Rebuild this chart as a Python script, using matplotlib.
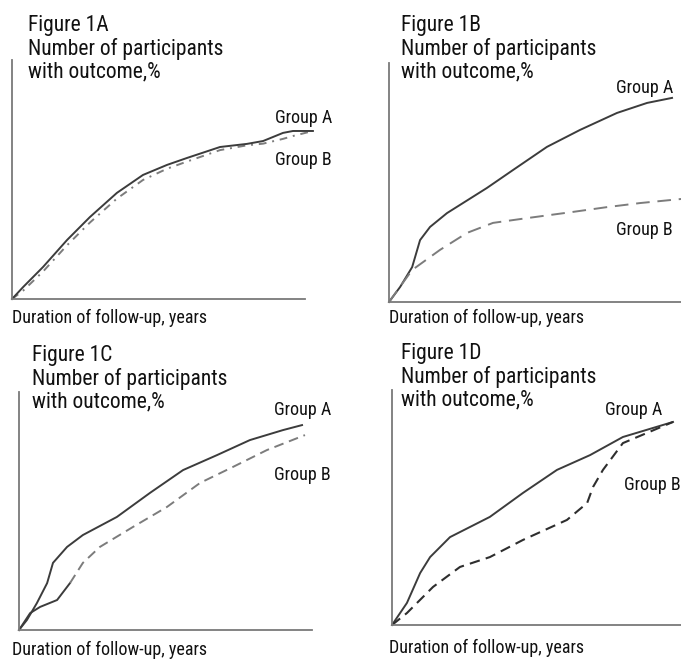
import matplotlib
matplotlib.use("Agg")
import matplotlib.pyplot as plt

plt.rcParams['font.family'] = ['Roboto Condensed', 'DejaVu Sans']

W, H = 681, 659

# curves (x: 0-10 years, y: 0-100 %)
a_x = [0, 0.38, 1.06, 1.88, 2.66, 3.58, 4.47, 5.29, 5.97, 7.10, 8.02, 8.57, 9.25, 9.59, 10.27]
a_grpA = [0, 5.0, 13.4, 24.7, 34.3, 44.4, 51.9, 56.1, 59.0, 63.6, 64.9, 66.1, 69.5, 70.3, 70.3]
a_grpB = [0, 3.5, 11.5, 22.5, 32.0, 42.0, 49.8, 54.5, 57.5, 62.3, 64.3, 65.0, 67.0, 68.2, 70.3]

b_xA = [0, 0.38, 0.79, 1.06, 1.40, 1.98, 3.34, 4.23, 5.39, 6.52, 7.78, 8.81, 9.66]
b_grpA = [0, 6.3, 14.6, 25.9, 31.4, 37.2, 47.7, 55.2, 64.9, 72.0, 79.1, 83.3, 85.4]
b_xB = [0, 0.79, 1.74, 2.66, 3.55, 4.71, 6.28, 7.44, 8.57, 9.97]
b_grpB = [0, 13.4, 21.8, 28.9, 33.1, 35.1, 37.7, 39.7, 41.4, 43.1]

c_xA = [0, 0.27, 0.61, 0.96, 1.16, 1.64, 2.18, 3.34, 4.47, 5.60, 6.76, 7.88, 9.01, 9.66]
c_grpA = [0, 4.2, 11.3, 19.7, 28.2, 34.9, 39.9, 47.5, 57.6, 67.2, 73.5, 79.8, 84.0, 86.1]
c_xB = [0, 0.38, 0.72, 1.30, 1.74, 2.18, 2.76, 3.89, 5.05, 6.18, 7.30, 8.46, 9.76]
c_grpB = [0, 7.1, 9.7, 12.6, 19.7, 28.2, 34.9, 43.3, 51.7, 61.8, 68.5, 75.6, 81.9]
c_split = 4  # group B is solid up to this point, dashed after

d_xA = [0, 0.51, 0.96, 1.30, 1.98, 3.34, 4.47, 5.63, 6.76, 7.88, 9.59]
d_grpA = [0, 9.4, 22.1, 28.9, 37.4, 46.0, 56.2, 66.0, 72.3, 80.0, 86.4]
d_xB = [0, 0.51, 1.40, 2.32, 3.34, 4.47, 5.97, 6.66, 6.86, 7.20, 7.88, 9.59]
d_grpB = [0, 5.1, 16.2, 24.7, 28.9, 36.2, 44.7, 51.9, 58.7, 66.0, 77.4, 86.4]

panels = ["1A", "1B", "1C", "1D"]
ylabel = "Number of participants\nwith outcome,%"
xlabel = "Duration of follow-up, years"

fig = plt.figure(figsize=(W / 100, H / 100), dpi=100)


def px_axes(x0, y0, w, h):
    # x0, y0 = origin in image pixels (from top-left)
    return fig.add_axes([x0 / W, 1 - y0 / H, w / W, h / H])


def px_text(x, y, s, size, va="center", ls=1.0):
    fig.text(x / W, 1 - y / H, s, fontsize=size, ha="left", va=va,
             color="#111111", linespacing=ls)


boxes = [(12, 299, 293, 239), (389, 302, 293, 239),
         (19, 630, 293, 238), (392, 625, 293, 235)]
axes = []
for (x0, y0, w, h) in boxes:
    ax = px_axes(x0, y0, w, h)
    ax.set_xlim(0, 10)
    ax.set_ylim(0, 100)
    for s in ["top", "right"]:
        ax.spines[s].set_visible(False)
    for s in ["left", "bottom"]:
        ax.spines[s].set_color("#7a7a7a")
        ax.spines[s].set_linewidth(1.3)
    ax.set_xticks([])
    ax.set_yticks([])
    ax.patch.set_alpha(0)
    axes.append(ax)

solid = dict(color="#3c3c3c", lw=1.4, clip_on=False)
grey_dash = dict(color="#7c7c7c", lw=1.4, ls=(0, (5, 3)), clip_on=False)
dark_dash = dict(color="#2e2e2e", lw=1.5, ls=(0, (5, 3)), clip_on=False)

ax = axes[0]
ax.plot(a_x, a_grpB, **dict(grey_dash, ls=(0, (4, 3, 1, 3))))
ax.plot(a_x, a_grpA, **solid)

ax = axes[1]
ax.plot(b_xA, b_grpA, **solid)
ax.plot(b_xB, b_grpB, **dict(grey_dash, ls=(0, (7, 4))))

ax = axes[2]
ax.plot(c_xA, c_grpA, **solid)
ax.plot(c_xB[:c_split + 1], c_grpB[:c_split + 1], **solid)
ax.plot(c_xB[c_split:], c_grpB[c_split:], **grey_dash)

ax = axes[3]
ax.plot(d_xA, d_grpA, **solid)
ax.plot(d_xB, d_grpB, **dark_dash)

# titles
title_pos = [(28, 15), (401, 15), (32, 345), (401, 343)]
for (x, y), p in zip(title_pos, panels):
    px_text(x, y, "Figure " + p + "\n" + ylabel, 15.5, va="top", ls=1.1)

# x labels
xlab_pos = [(12, 318), (389, 318), (12, 650), (389, 648)]
for (x, y) in xlab_pos:
    px_text(x, y, xlabel, 13)

# group labels
grp_pos = [((275, 118), (275, 160)), ((616, 88), (616, 230)),
           ((274, 410), (274, 475)), ((605, 410), (624, 485))]
for (pa, pb) in grp_pos:
    px_text(pa[0], pa[1], "Group A", 13)
    px_text(pb[0], pb[1], "Group B", 13)

fig.savefig("out.png", dpi=100)
